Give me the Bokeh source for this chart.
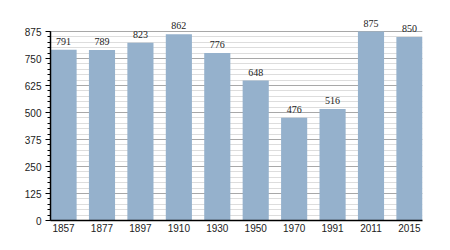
from bokeh.plotting import figure
from bokeh.models import FixedTicker, Range1d, ColumnDataSource, LabelSet
from bokeh.embed import file_html
from bokeh.resources import INLINE

years = ["1857", "1877", "1897", "1910", "1930", "1950", "1970", "1991", "2011", "2015"]
population = [791, 789, 823, 862, 776, 648, 476, 516, 875, 850]
y_ticks = [0, 125, 250, 375, 500, 625, 750, 875]
y_minor = list(range(0, 876, 25))

xs = list(range(len(years)))
src = ColumnDataSource(dict(x=xs, top=population, label=[str(v) for v in population]))

FONT = "Liberation Sans"
BAR_W = 0.68
Y_TOP = 875
# extra headroom above 875 so value labels are not clipped (21 px at 189px/875)
Y_END = Y_TOP + 21 * Y_TOP / 189

p = figure(width=450, height=250, output_backend="svg", toolbar_location=None,
           x_range=Range1d(-BAR_W / 2, len(years) - 1 + BAR_W / 2),
           y_range=Range1d(0, Y_END),
           min_border_left=50, min_border_right=28, min_border_top=10, min_border_bottom=30)
p.outline_line_color = None
p.background_fill_color = "white"
p.border_fill_color = "white"

p.vbar(x="x", top="top", width=BAR_W, source=src, color="#95b1cc", line_color=None)

labels = LabelSet(x="x", y="top", text="label", source=src, text_align="center",
                  text_baseline="bottom", y_offset=5, text_font=FONT,
                  text_font_size="10px", text_color="#222222")
p.add_layout(labels)

# axes
p.xaxis.ticker = FixedTicker(ticks=xs)
p.xaxis.major_label_overrides = {i: y for i, y in enumerate(years)}
p.xaxis.major_tick_line_color = None
p.xaxis.minor_tick_line_color = None
p.xaxis.major_tick_in = 0
p.xaxis.major_tick_out = 0
p.xaxis.minor_tick_in = 0
p.xaxis.minor_tick_out = 0
p.xaxis.axis_line_color = "black"
p.xaxis.axis_line_width = 1.5
p.xaxis.major_label_text_font = FONT
p.xaxis.major_label_text_font_size = "10px"
p.xaxis.major_label_text_color = "#222222"
p.xaxis.major_label_standoff = 3

p.yaxis.ticker = FixedTicker(ticks=y_ticks, minor_ticks=y_minor)
p.yaxis.bounds = (0, Y_TOP)
p.yaxis.axis_line_color = "black"
p.yaxis.axis_line_width = 1.5
p.yaxis.major_tick_in = 0
p.yaxis.major_tick_out = 5
p.yaxis.minor_tick_in = 0
p.yaxis.minor_tick_out = 3
p.yaxis.major_tick_line_color = "black"
p.yaxis.minor_tick_line_color = "black"
p.yaxis.major_label_text_font = FONT
p.yaxis.major_label_text_font_size = "10px"
p.yaxis.major_label_text_color = "#222222"
p.yaxis.major_label_standoff = 4

# grids
p.xgrid.grid_line_color = None
p.ygrid.grid_line_color = "#a8a8a8"
p.ygrid.grid_line_width = 1
p.ygrid.minor_grid_line_color = "#dddddd"
p.ygrid.minor_grid_line_width = 1

open("out.html", "w").write(file_html(p, INLINE))
